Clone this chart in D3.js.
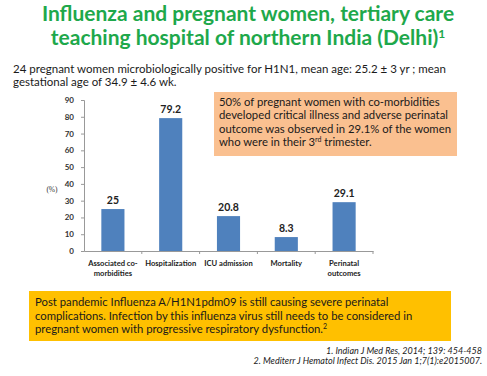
<!DOCTYPE html>
<html>
<head>
<meta charset="utf-8">
<script src="https://cdn.jsdelivr.net/npm/d3@7"></script>
<style>
  body { margin: 0; background: #fff; }
  svg { display: block; }
</style>
</head>
<body>
<svg id="chart" width="487" height="376"></svg>
<script>
// chart data
let categories = ["Associated co-|morbidities", "Hospitalization", "ICU admission", "Mortality", "Perinatal|outcomes"];
let values = [25, 79.2, 20.8, 8.3, 29.1];
let valueLabels = ["25", "79.2", "20.8", "8.3", "29.1"];
let yTicks = [0, 10, 20, 30, 40, 50, 60, 70, 80, 90];

let titleLines = ["Influenza and pregnant women, tertiary care", "teaching hospital of northern India (Delhi)"];
let introLines = ["24 pregnant women microbiologically positive for H1N1, mean age: 25.2 \u00b1 3 yr ; mean",
                  "gestational age of 34.9 \u00b1 4.6 wk."];
let noteLines = ["50% of pregnant women with co-morbidities",
                 "developed critical illness and adverse perinatal",
                 "outcome was observed in 29.1% of the women",
                 "who were in their 3"];
let conclusionLines = ["Post pandemic Influenza A/H1N1pdm09 is still causing severe perinatal",
                       "complications. Infection by this influenza virus still needs to be considered in",
                       "pregnant women with progressive respiratory dysfunction."];
let refLines = ["1. Indian J Med Res, 2014; 139:  454-458",
                "2. Mediterr J Hematol Infect Dis. 2015 Jan 1;7(1):e2015007."];

let font = "Lato, 'Open Sans', sans-serif";
let barColor = "#4f81bd";
let svg = d3.select("#chart");

// title
svg.selectAll(".titleLine")
    .data(titleLines)
    .enter()
    .append("text")
    .attr("x", 248)
    .attr("y", function(d, i) { return 21 + i * 24; })
    .style("font-family", font)
    .style("font-weight", "bold")
    .style("font-size", "21px")
    .style("fill", "#1ea84b")
    .style("text-anchor", "middle")
    .text(function(d) { return d; })
    .filter(function(d, i) { return i == 1; })
    .append("tspan")
    .attr("dy", -7)
    .style("font-size", "12px")
    .text("1");

// intro text
svg.selectAll(".introLine")
    .data(introLines)
    .enter()
    .append("text")
    .attr("x", 13)
    .attr("y", function(d, i) { return 73 + i * 13; })
    .style("font-family", font)
    .style("font-size", "11.5px")
    .style("fill", "#1a1a1a")
    .text(function(d) { return d; });

// scales
let x = d3.scaleBand()
    .domain(categories)
    .range([84, 373])
    .paddingInner(0.6)
    .paddingOuter(0.3);

let y = d3.scaleLinear()
    .domain([0, 90])
    .range([251, 100]);

// y axis (line + ticks), labels drawn separately below
let yAxis = svg.append("g")
    .attr("transform", "translate(84,0)")
    .call(d3.axisLeft(y).tickValues(yTicks).tickSize(3).tickFormat(""));
yAxis.select(".domain").attr("stroke", "#999");
yAxis.selectAll(".tick line").attr("stroke", "#999");

svg.selectAll(".yTickLabel")
    .data(yTicks)
    .enter()
    .append("text")
    .attr("x", 74)
    .attr("y", function(d) { return y(d) + 3; })
    .style("font-family", font)
    .style("font-weight", "bold")
    .style("font-size", "8px")
    .style("fill", "#333")
    .style("text-anchor", "end")
    .text(function(d) { return d; });

// x axis
let xAxis = svg.append("g")
    .attr("transform", "translate(0," + y(0) + ")")
    .call(d3.axisBottom(x).tickSize(0).tickFormat(""));
xAxis.select(".domain").attr("stroke", "#999");

// bars
svg.selectAll(".bar")
    .data(values)
    .enter()
    .append("rect")
    .attr("x", function(d, i) { return x(categories[i]); })
    .attr("y", function(d) { return y(d); })
    .attr("width", x.bandwidth())
    .attr("height", function(d) { return y(0) - y(d); })
    .attr("fill", barColor);

// value labels
svg.selectAll(".val")
    .data(values)
    .enter()
    .append("text")
    .attr("x", function(d, i) { return x(categories[i]) + x.bandwidth() / 2; })
    .attr("y", function(d) { return y(d) - 5; })
    .style("font-family", font)
    .style("font-weight", "bold")
    .style("font-size", "10.5px")
    .style("fill", "#222")
    .style("text-anchor", "middle")
    .text(function(d, i) { return valueLabels[i]; });

// category separators on x axis
svg.selectAll(".sep")
    .data(categories)
    .enter()
    .append("line")
    .attr("x1", function(d) { return x(d) + x.bandwidth() / 2 + x.step() / 2; })
    .attr("x2", function(d) { return x(d) + x.bandwidth() / 2 + x.step() / 2; })
    .attr("y1", y(0))
    .attr("y2", y(0) + 3)
    .attr("stroke", "#999");

// category labels
categories.forEach(function(c) {
    let parts = c.split("|");
    parts.forEach(function(p, i) {
        svg.append("text")
            .attr("x", x(c) + x.bandwidth() / 2)
            .attr("y", y(0) + 15 + i * 9.5)
            .style("font-family", font)
            .style("font-size", "7.6px")
            .style("font-weight", "bold")
            .style("fill", "#222")
            .style("text-anchor", "middle")
            .text(p);
    });
});

// y label
svg.append("text")
    .attr("x", 52)
    .attr("y", 192)
    .style("font-family", "'Liberation Serif', serif")
    .style("font-size", "7.5px")
    .style("fill", "#333")
    .style("text-anchor", "middle")
    .text("(%)");

// orange note box
svg.append("rect")
    .attr("x", 214)
    .attr("y", 92)
    .attr("width", 243)
    .attr("height", 64)
    .attr("fill", "#fac090");
let notes = svg.selectAll(".noteLine")
    .data(noteLines)
    .enter()
    .append("text")
    .attr("x", 219)
    .attr("y", function(d, i) { return 106 + i * 13.4; })
    .style("font-family", font)
    .style("font-size", "11.3px")
    .style("fill", "#1a1a1a")
    .text(function(d) { return d; });
let lastNote = notes.filter(function(d, i) { return i == 3; });
lastNote.append("tspan").attr("dy", -4).style("font-size", "7px").text("rd");
lastNote.append("tspan").attr("dy", 4).text(" trimester.");

// yellow conclusion box
svg.append("rect")
    .attr("x", 29)
    .attr("y", 291)
    .attr("width", 422)
    .attr("height", 50)
    .attr("fill", "#ffc000");
svg.selectAll(".concLine")
    .data(conclusionLines)
    .enter()
    .append("text")
    .attr("x", 35)
    .attr("y", function(d, i) { return 306 + i * 13.5; })
    .style("font-family", font)
    .style("font-size", "11.3px")
    .style("fill", "#1a1a1a")
    .text(function(d) { return d; })
    .filter(function(d, i) { return i == 2; })
    .append("tspan")
    .attr("dy", -4)
    .style("font-size", "7px")
    .text("2");

// references
svg.selectAll(".refLine")
    .data(refLines)
    .enter()
    .append("text")
    .attr("x", 482)
    .attr("y", function(d, i) { return 354 + i * 9.5; })
    .style("font-family", font)
    .style("font-style", "italic")
    .style("font-size", "9px")
    .style("fill", "#222")
    .style("text-anchor", "end")
    .text(function(d) { return d; });
</script>
</body>
</html>
